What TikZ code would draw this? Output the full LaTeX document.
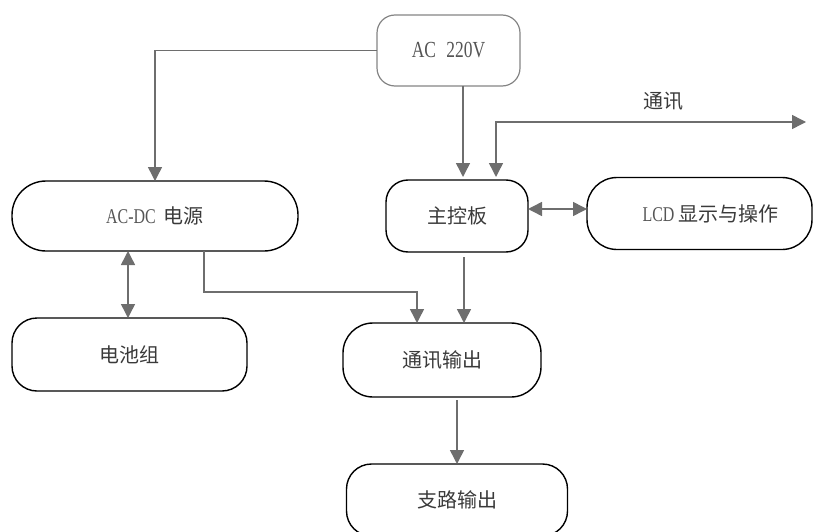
\documentclass[tikz,border=0pt]{standalone}
\usepackage{fontspec}
\setmainfont{Liberation Serif}
\newfontfamily\cjk{Noto Sans CJK SC}
\newfontfamily\latf[FakeStretch=0.76]{Liberation Serif}
\usetikzlibrary{arrows.meta}
\definecolor{ln}{HTML}{6E6E6E}
\definecolor{tx}{HTML}{3A3A3A}
\definecolor{lt}{HTML}{555555}
\begin{document}
\begin{tikzpicture}[x=1pt,y=-1pt,
  box/.style={draw=black, line width=1.4pt, rounded corners=#1, inner sep=0pt, outer sep=0pt, text=tx},
  box/.default=22pt,
  tip/.tip={Triangle[length=14pt,width=14pt]},
  conn/.style={draw=ln, line width=1.5pt, -tip},
  dconn/.style={draw=ln, line width=1.5pt, tip-tip},
  lbl/.style={inner sep=0pt, text=tx},
  cjkf/.style={font=\cjk\fontsize{20}{20}\selectfont}]
\path[use as bounding box] (0,0) rectangle (813,532);
\clip (0,0) rectangle (813,532);

\node[box=18pt, draw=ln!85, line width=1.2pt, minimum width=143pt, minimum height=71pt] (ac) at (448.5,50.5)
  {\color{lt}\latf\fontsize{23}{23}\selectfont AC\hspace{0.45em}220V};
\node[box=34pt, minimum width=286pt, minimum height=70pt] (acdc) at (155,216)
  {{\color{lt}\latf\fontsize{21}{21}\selectfont AC-DC}\hspace{8pt}{\cjk\fontsize{20}{20}\selectfont 电源}};
\node[box=22pt, cjkf, minimum width=142pt, minimum height=72pt] (main) at (457,216) {主控板};
\node[box=30pt, minimum width=225pt, minimum height=72pt] (lcd) at (699.5,213.5)
  {\hspace*{22pt}{\color{lt}\latf\fontsize{21}{21}\selectfont LCD}\hspace{4pt}{\cjk\fontsize{20}{20}\selectfont 显示与操作}};
\node[box=25pt, cjkf, minimum width=235pt, minimum height=73pt] (batt) at (129.5,354.5) {电池组};
\node[box=30pt, cjkf, minimum width=198pt, minimum height=74pt] (out) at (442,360) {通讯输出};
\node[box=25pt, cjkf, minimum width=221pt, minimum height=72pt] (branch) at (457,500) {支路输出};

\node[lbl, cjkf] (clbl) at (663,101) {通讯};
\coordinate (cend) at (806,122);

\draw[conn] (ac.west) -| (acdc.north);
\draw[conn, shorten >=3pt] ([xshift=14.5pt]ac.south) -- ([xshift=14.5pt]ac.south |- main.north);
\draw[dconn, shorten >=3pt] (cend) -| ([xshift=39pt]main.north);
\draw[dconn] ([yshift=7pt]main.east) -- ([yshift=7pt]main.east -| lcd.west);
\draw[conn] ([xshift=49pt]acdc.south) -- ++(0,41) -| ([xshift=-25pt]out.north);
\draw[conn, shorten <=5pt] ([xshift=7pt]main.south) -- ([xshift=7pt]main.south |- out.north);
\draw[dconn] ([xshift=-27pt]acdc.south) -- ([xshift=-27pt]acdc.south |- batt.north);
\draw[conn, shorten <=3pt] ([xshift=15pt]out.south) -- ([xshift=15pt]out.south |- branch.north);
\end{tikzpicture}
\end{document}
